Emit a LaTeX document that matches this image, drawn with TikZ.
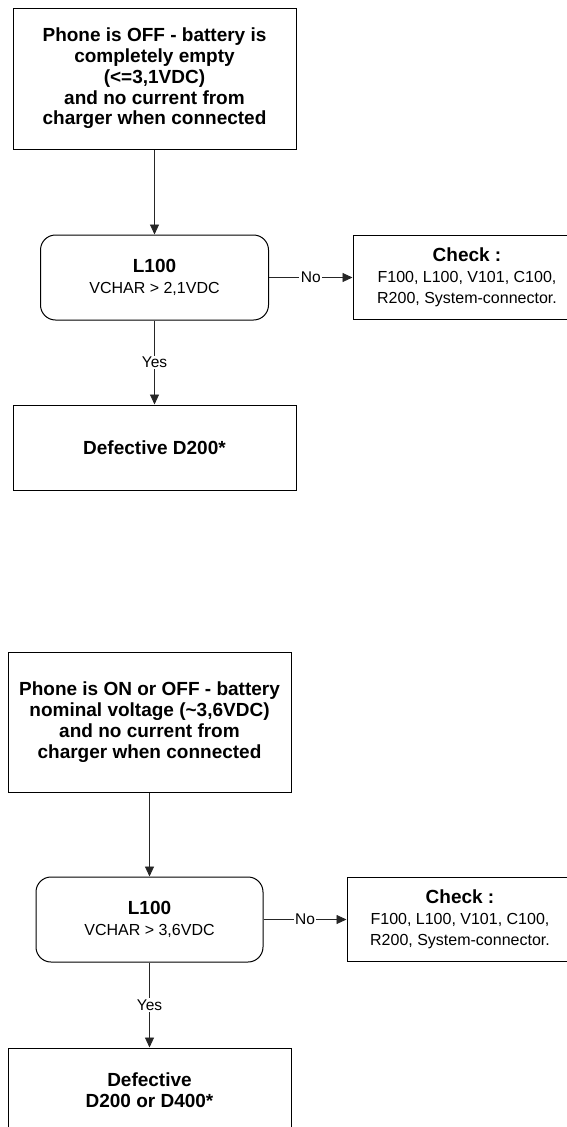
\documentclass[tikz,border=0pt]{standalone}
\usepackage{fontspec}
\setmainfont{Liberation Sans}
\usetikzlibrary{arrows.meta}
\newcommand{\rgtext}{\normalfont\fontsize{16}{17.5}\selectfont}
\tikzset{
  box/.style={draw=black, line width=1pt, inner sep=2pt, align=center,
    font=\fontsize{19}{20.8}\selectfont\bfseries},
  rbox/.style={box, rounded corners=15pt},
  conn/.style={draw=black!85, line width=0.9pt, -{Triangle[length=10pt,width=9pt]}},
  lbl/.style={fill=white, inner sep=1.5pt, font=\fontsize{15.5}{17}\selectfont},
}
\begin{document}
\begin{tikzpicture}[x=1pt,y=-1pt]
\useasboundingbox (0,0) rectangle (567,1127);
% ---- first flow ----
\node[box, minimum width=283pt, minimum height=141pt] (a1) at (154.5,78.5)
  {Phone is OFF - battery is\\completely empty\\(<=3,1VDC)\\and no current from\\charger when connected};
\node[rbox, minimum width=228pt, minimum height=85pt] (la) at (154.5,277.5)
  {L100\\{\rgtext VCHAR > 2,1VDC}};
\node[box, minimum width=228pt, minimum height=84pt] (ca) at (467,277.5)
  {Check :\\{\rgtext F100, L100, V101, C100,}\\{\rgtext R200, System-connector.}};
\node[box, minimum width=283pt, minimum height=85pt] (da) at (154.5,447.5)
  {Defective D200*};
\draw[conn] (a1) -- (la);
\draw[conn] (la) -- node[lbl]{No} (ca);
\draw[conn] (la) -- node[lbl]{Yes} (da);
% ---- second flow ----
\node[box, minimum width=283pt, minimum height=140pt] (b1) at (149.5,722)
  {Phone is ON or OFF - battery\\nominal voltage (\textasciitilde 3,6VDC)\\and no current from\\charger when connected};
\node[rbox, minimum width=227pt, minimum height=85pt] (lb) at (149.5,919.5)
  {L100\\{\rgtext VCHAR > 3,6VDC}};
\node[box, minimum width=226pt, minimum height=84pt] (cb) at (460,919.5)
  {Check :\\{\rgtext F100, L100, V101, C100,}\\{\rgtext R200, System-connector.}};
\node[box, minimum width=283pt, minimum height=85pt] (db) at (149.5,1090.5)
  {Defective\\D200 or D400*};
\draw[conn] (b1) -- (lb);
\draw[conn] (lb) -- node[lbl]{No} (cb);
\draw[conn] (lb) -- node[lbl]{Yes} (db);
\end{tikzpicture}
\end{document}
